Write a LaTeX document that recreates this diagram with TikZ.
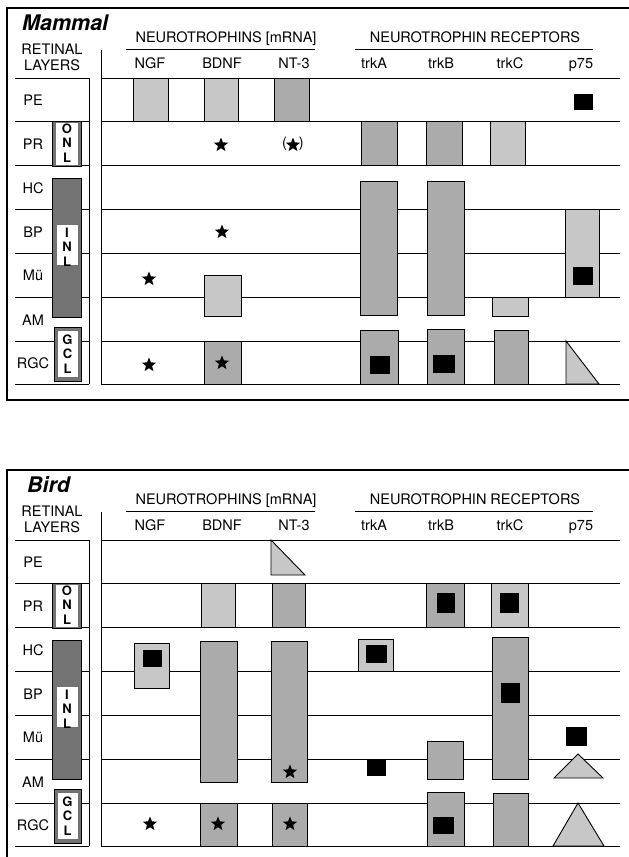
\documentclass[tikz,border=0pt]{standalone}
\usepackage{fontspec}
\setmainfont{TeX Gyre Heros}
\usetikzlibrary{shapes.geometric}

\begin{document}
\begin{tikzpicture}[x=1pt,y=-1pt,
  frm/.style={line width=1.3pt},
  rowln/.style={line width=0.9pt},
  stiplt/.style={draw,line width=0.9pt,fill=black!22},
  stipmd/.style={draw,line width=0.9pt,fill=black!33},
  stipdk/.style={draw,line width=0.6pt,fill=black!55},
  astar/.style={star,star points=5,star point ratio=2.3,fill=black,inner sep=0pt,minimum size=15pt},
  ttl/.style={font=\fontsize{21.5}{24}\selectfont\bfseries\itshape,inner sep=0pt},
  hd/.style={font=\fontsize{14.5}{16}\selectfont,inner sep=0pt},
  lyrbox/.style={font=\fontsize{13}{14.5}\selectfont\bfseries,align=center,inner sep=0pt}]
\useasboundingbox (0,0) rectangle (629,857);
\clip (0,0) rectangle (629,857);
\fill[white] (0,0) rectangle (629,857);

% frame, headers and layer column, same for both panels
\foreach \ttl/\tx/\dy/\nm in {Mammal/22/0/m, Bird/27/462/b} {
\begin{scope}[shift={(0,\dy)}]
  \draw[frm] (629,8) -- (7,8) -- (7,400) -- (629,400);
  \node[ttl,anchor=base west] (\nm-ttl) at (\tx,30) {\ttl};
  \node[hd,align=center] (\nm-lay) at (52,57) {RETINAL\\LAYERS};
  \node[hd,anchor=base] (\nm-nt) at (226,42.5) {NEUROTROPHINS [mRNA]};
  \node[hd,anchor=base] (\nm-rc) at (475,42) {NEUROTROPHIN RECEPTORS};
  \draw[rowln] (126,49) -- (315,49);
  \draw[rowln] (355,49) -- (593,49);
  \foreach \col/\cx [count=\i] in {NGF/150,BDNF/222,NT-3/294,trkA/374,trkB/441,trkC/510,p75/581}
    \node[hd,anchor=base] (\nm-col\i) at (\cx,68) {\col};
  \draw[rowln] (101,50) -- (101,385);
  \draw[line width=0.6pt] (89,78) -- (89,384);
  \foreach \ry in {78,121,165,209,253,297,341,384} {
    \draw[rowln] (15,\ry) -- (89,\ry);
    \draw[rowln] (101,\ry) -- (620,\ry);
  }
  \foreach \lbl/\ly [count=\i] in {PE/105,PR/149,HC/193,BP/237,Mü/280,AM/325,RGC/368}
    \node[hd,anchor=base] (\nm-lyr\i) at (33,\ly) {\lbl};
  % nuclear layers
  \draw[stipdk] (52,121) rectangle (81,166);
  \fill[white] (55.5,122.5) rectangle (77.5,164.5);
  \node[lyrbox] (\nm-onl) at (67,143) {O\\N\\L};
  \draw[stipdk] (52,178) rectangle (81,317);
  \fill[white] (56.5,225) rectangle (77.5,265);
  \node[lyrbox] (\nm-inl) at (67,247) {I\\N\\L};
  \draw[stipdk] (54,327) rectangle (81.5,381);
  \fill[white] (57.5,331) rectangle (78,377);
  \node[lyrbox] (\nm-gcl) at (67.5,354) {G\\C\\L};
\end{scope}
}

% Mammal
\draw[stiplt] (133,78) rectangle (168,121);
\draw[stiplt] (204,78) rectangle (238,121);
\draw[stipmd] (274,78) rectangle (309,121);
\node[astar] (m-bdnf-pr) at (221,145) {};
\node[hd] (m-nt3-pr) at (293,144) {(\hspace{12pt})};
\node[astar] (m-nt3-st) at (293,145) {};
\node[astar] (m-bdnf-bp) at (222,232) {};
\node[astar] (m-ngf-mu) at (149,279) {};
\draw[stiplt] (204,275) rectangle (241,316);
\node[astar] (m-ngf-rgc) at (149,365) {};
\draw[stipmd] (204,341) rectangle (241,384);
\node[astar] (m-bdnf-rgc) at (222,363) {};
\draw[stipmd] (361,121) rectangle (397,165);
\draw[stipmd] (360,181) rectangle (397,315);
\draw[stipmd] (360,330) rectangle (398,384);
\fill (370,356) rectangle (390,374);
\draw[stipmd] (426,121) rectangle (462,165);
\draw[stipmd] (427,181) rectangle (464,315);
\draw[stipmd] (427,329) rectangle (464,384);
\fill (433,355) rectangle (455,373);
\draw[stiplt] (490,121) rectangle (525,165);
\draw[stiplt] (492,297) rectangle (528,316);
\draw[stipmd] (494,330) rectangle (528,384);
\fill (574,94) rectangle (593,110);
\draw[stiplt] (565,209) rectangle (599,297);
\fill (573,267) rectangle (593,285);
\draw[stiplt] (566,341) -- (566,384) -- (599,384) -- cycle;

% Bird
\draw[stiplt] (271,540) -- (271,575) -- (305,575) -- cycle;
\draw[stiplt] (201,583) rectangle (235,627);
\draw[stipmd] (272,583) rectangle (305,627);
\draw[stipmd] (426,583) rectangle (464,627);
\fill (437,593) rectangle (455,613);
\draw[stiplt] (491,583) rectangle (528,627);
\fill (500,593) rectangle (519,613);
\draw[stiplt] (134,643) rectangle (169,688);
\fill (143,650) rectangle (162,667);
\draw[stipmd] (200,641) rectangle (237,782);
\draw[stipmd] (271,641) rectangle (307,782);
\node[astar] (b-nt3-am) at (290,772) {};
\draw[stiplt] (358,639) rectangle (393,671);
\fill (366,645) rectangle (387,663);
\fill (367,760) rectangle (386,776);
\draw[stipmd] (427,741) rectangle (463,779);
\draw[stipmd] (427,792) rectangle (464,846);
\fill (433,817) rectangle (454,834);
\draw[stipmd] (492,637) rectangle (528,779);
\fill (501,683) rectangle (520,703);
\draw[stipmd] (493,793) rectangle (528,846);
\fill (566,727) rectangle (587,746);
\draw[stiplt] (578,754) -- (554,778) -- (603,778) -- cycle;
\draw[stiplt] (578,803) -- (553,846) -- (604,846) -- cycle;
\node[astar] (b-ngf-rgc) at (150,824) {};
\draw[stipmd] (200,803) rectangle (237,846);
\node[astar] (b-bdnf-rgc) at (218,824) {};
\draw[stipmd] (272,803) rectangle (307,846);
\node[astar] (b-nt3-rgc) at (290,824) {};
\end{tikzpicture}
\end{document}
